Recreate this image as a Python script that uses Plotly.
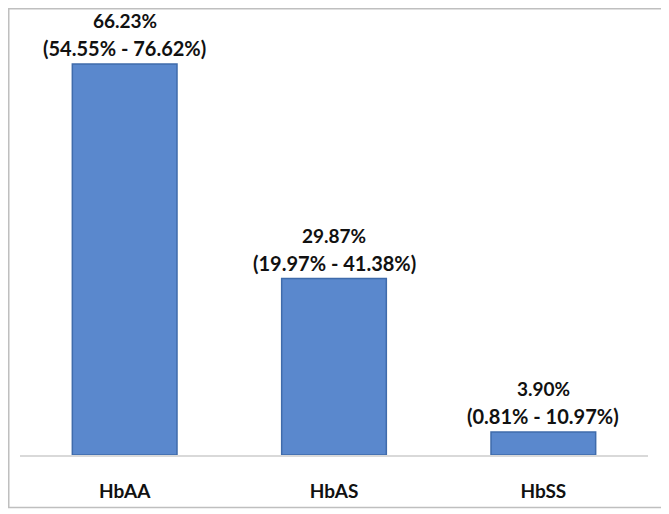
import plotly.graph_objects as go

genotypes = ["HbAA", "HbAS", "HbSS"]
prevalence = [66.23, 29.87, 3.90]
ci_low = [54.55, 19.97, 0.81]
ci_high = [76.62, 41.38, 10.97]

# the page body adds an 8px margin, so the figure is 8px smaller than the window
W, H = 661, 506
L, R, T, B = 12, 20.5, 12, 55
pw, ph = W - L - R, H - T - B

fig = go.Figure()
fig.add_trace(go.Bar(x=genotypes, y=prevalence, width=0.5,
                     marker=dict(color="#5a88cd", line=dict(color="#3f6bab", width=1.5))))

# two-line labels above each bar
for g, p, lo, hi in zip(genotypes, prevalence, ci_low, ci_high):
  fig.add_annotation(x=g, y=p, text="<b>(%.2f%% - %.2f%%)</b>" % (lo, hi), showarrow=False,
                     yanchor="bottom", yshift=3, borderpad=0,
                     font=dict(family="Lato", size=20, color="#111"))
  fig.add_annotation(x=g, y=p, text="<b>%.2f%%</b>" % p, showarrow=False,
                     yanchor="bottom", yshift=31, borderpad=0,
                     font=dict(family="Lato", size=19, color="#111"))

fig.update_xaxes(showline=True, linecolor="#d9d9d9", linewidth=1.5, ticks="",
                 tickfont=dict(family="Lato", size=19, color="#111"), ticklabelstandoff=18,
                 tickvals=genotypes, ticktext=["<b>%s</b>" % g for g in genotypes])
fig.update_yaxes(range=[0, 73.66], visible=False)

# outer border of the picture
fig.add_shape(type="rect", xref="paper", yref="paper",
              x0=(0.75 - L) / pw, x1=(W - 1 - L) / pw,
              y0=-(B - 2) / ph, y1=1 + (T - 0.75) / ph,
              line=dict(color="#bfbfbf", width=1.5))

fig.update_layout(width=W, height=H, margin=dict(l=L, r=R, t=T, b=B),
                  plot_bgcolor="white", paper_bgcolor="white", showlegend=False)

fig.write_html("out.html")
